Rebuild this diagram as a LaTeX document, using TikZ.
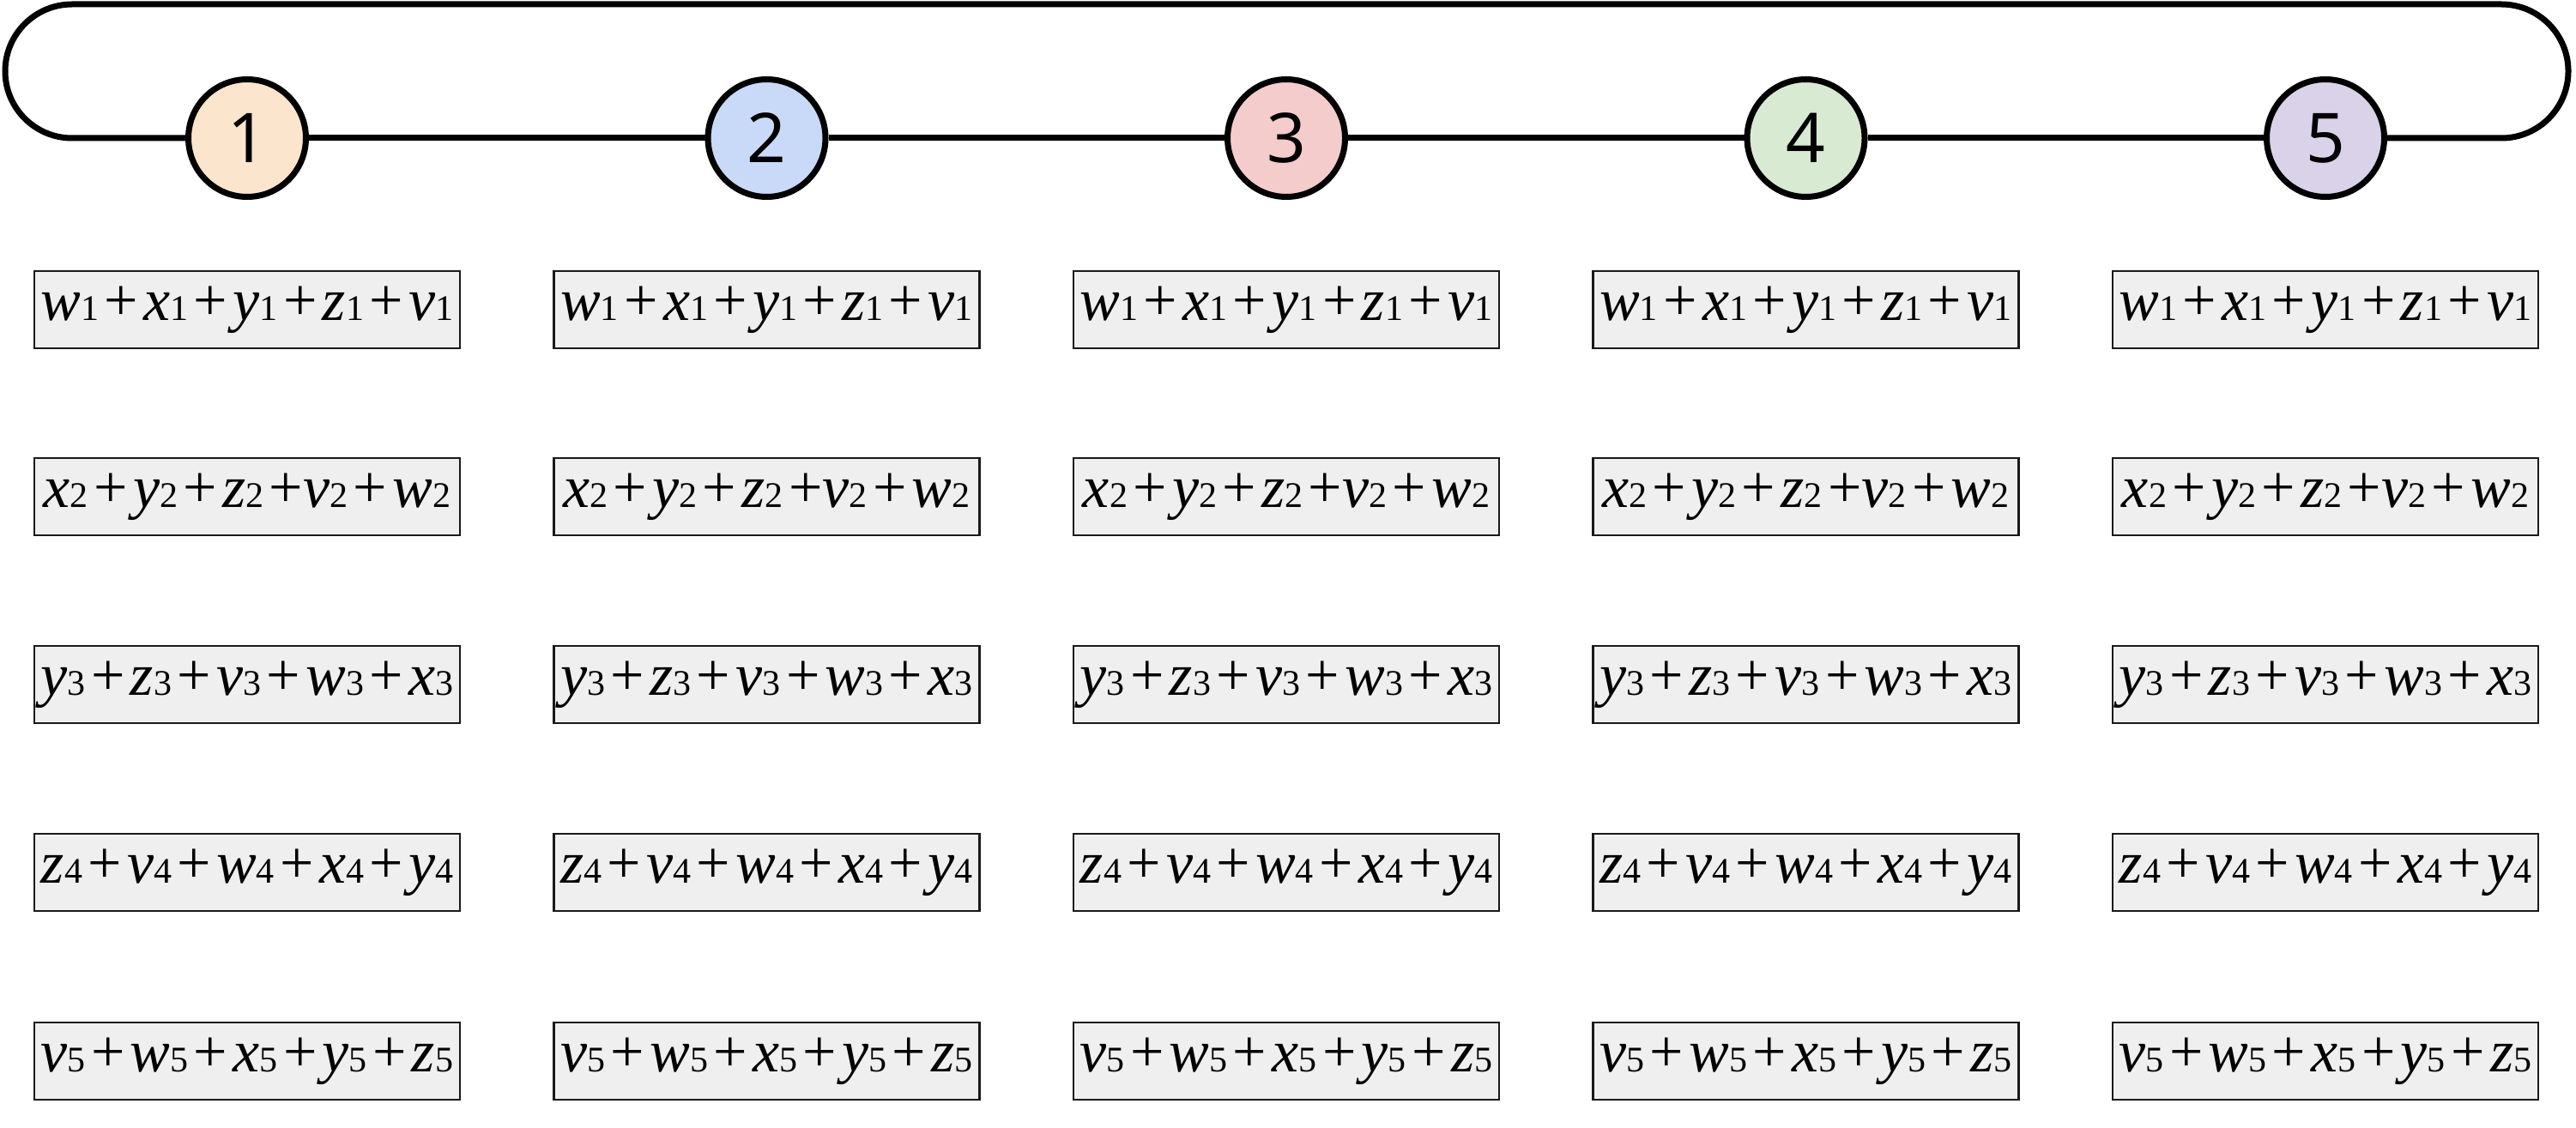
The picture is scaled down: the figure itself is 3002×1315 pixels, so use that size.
\documentclass[tikz,border=0pt]{standalone}
\usepackage{fontspec}
\setmainfont{Liberation Serif}
\newfontfamily\serf{Liberation Serif}
\newfontfamily\numfont{Noto Sans}
\definecolor{c1}{HTML}{FCE5CD}
\definecolor{c2}{HTML}{C9DAF8}
\definecolor{c3}{HTML}{F4CCCC}
\definecolor{c4}{HTML}{D9EAD3}
\definecolor{c5}{HTML}{D9D2E9}
\definecolor{boxfill}{HTML}{EFEFEF}
\newcommand\trm[2]{{\serf\itshape #1}{\serf\upshape\fontsize{21}{21}\selectfont #2}}
\newcommand\pl{\hspace{0.09em}+\hspace{0.09em}}
\newcommand\plr{\hspace{0.09em}+}
\tikzset{
  ring/.style={line width=3.5pt, black},
  numcirc/.style={circle, draw=black, line width=3.5pt, inner sep=0pt, minimum size=68.5pt, font=\numfont\fontsize{40}{40}\selectfont},
  termbox/.style={draw=black!90, line width=1.4pt, fill=boxfill, inner sep=0pt, minimum width=248pt, minimum height=45pt, font=\serf\fontsize{35}{35}\selectfont}
}
\begin{document}
\begin{tikzpicture}[x=0.5pt,y=-0.5pt]
\useasboundingbox (0,0) rectangle (3002,1315);
\coordinate (L) at (84,161);
\coordinate (R) at (2915,161);
\foreach \i/\x in {1/288,2/893.5,3/1499,4/2104.5,5/2710} {
  \node[numcirc, fill=c\i] (c\i) at (\x,161) {\i};
}
\draw[ring] (c1) -- (c2);
\draw[ring] (c2) -- (c3);
\draw[ring] (c3) -- (c4);
\draw[ring] (c4) -- (c5);
\draw[ring] (c5.east) -- (R) arc[start angle=-90, end angle=90, radius=39pt] -- (84,5) arc[start angle=90, end angle=270, radius=39pt] -- (c1.west);
\foreach \i/\x in {1/288,2/893.5,3/1499,4/2104.5,5/2710} {
  \node[termbox] (b1\i) at (\x,361) {\trm{w}{1}\pl\trm{x}{1}\pl\trm{y}{1}\pl\trm{z}{1}\pl\trm{v}{1}};
  \node[termbox] (b2\i) at (\x,579) {\trm{x}{2}\pl\trm{y}{2}\pl\trm{z}{2}\plr\trm{v}{2}\pl\trm{w}{2}};
  \node[termbox] (b3\i) at (\x,798) {\trm{y}{3}\pl\trm{z}{3}\pl\trm{v}{3}\pl\trm{w}{3}\pl\trm{x}{3}};
  \node[termbox] (b4\i) at (\x,1017) {\trm{z}{4}\pl\trm{v}{4}\pl\trm{w}{4}\pl\trm{x}{4}\pl\trm{y}{4}};
  \node[termbox] (b5\i) at (\x,1237) {\trm{v}{5}\pl\trm{w}{5}\pl\trm{x}{5}\pl\trm{y}{5}\pl\trm{z}{5}};
}
\end{tikzpicture}
\end{document}
